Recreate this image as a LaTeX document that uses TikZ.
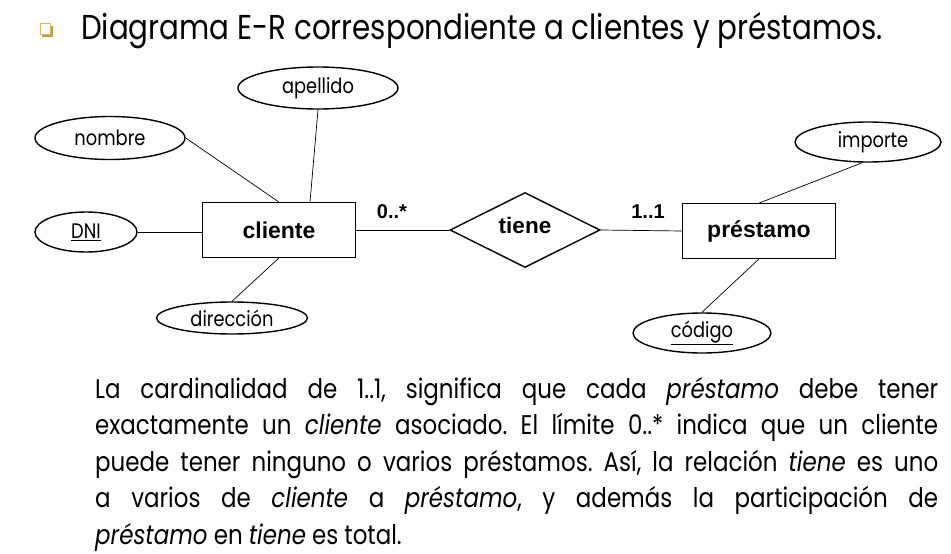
\documentclass[tikz,border=0pt]{standalone}
\usepackage{fontspec}
\setmainfont{Poppins}[FakeStretch=0.85]
\newfontfamily\arialfont{Liberation Sans}
\usetikzlibrary{shapes.geometric}
\definecolor{gold}{RGB}{204,153,51}
\frenchspacing
\begin{document}
\begin{tikzpicture}[x=1pt,y=-1pt,
  attr/.style={ellipse,draw,line width=1.4pt,inner sep=0pt,font=\fontsize{21}{23}\selectfont},
  ent/.style={draw,line width=0.8pt,minimum width=153pt,minimum height=55pt,inner sep=0pt,
    font=\arialfont\bfseries\fontsize{23}{25}\selectfont},
  rel/.style={diamond,draw,line width=1.4pt,minimum width=150pt,minimum height=75pt,aspect=2,inner sep=0pt,
    font=\arialfont\bfseries\fontsize{22.5}{24}\selectfont},
  card/.style={font=\arialfont\bfseries\fontsize{20}{22}\selectfont,inner sep=0pt},
  conn/.style={line width=0.7pt}]
\useasboundingbox[fill=white] (0,0) rectangle (951,554);
% bullet
\fill[gold] (42,26) rectangle (53,37);
\draw[gold!70,fill=white,line width=0.8pt] (40,23) rectangle (50,34);
\node[anchor=base west,inner sep=0pt,font=\fontsize{34.5}{37}\selectfont] (title) at (81,39)
  {Diagrama E-R correspondiente a clientes y préstamos.};
% entities
\node[ent] (cliente) at (279,230) {cliente};
\node[ent] (prestamo) at (759,231) {préstamo};
\node[rel] (tiene) at (525,230) {\raisebox{9pt}{tiene}};
% attributes
\node[attr,minimum width=160pt,minimum height=42pt] (apellido) at (318,88) {apellido};
\node[attr,minimum width=150pt,minimum height=43pt] (nombre) at (110,138) {nombre};
\node[attr,minimum width=102pt,minimum height=40pt] (dni) at (86,232) {\underline{DNI}};
\node[attr,minimum width=151pt,minimum height=32pt] (direccion) at (232,318) {dirección};
\node[attr,minimum width=146pt,minimum height=40pt] (importe) at (868,142) {\hspace{10pt}importe};
\node[attr,minimum width=138pt,minimum height=40pt] (codigo) at (702,333) {\underline{código}};
% connectors
\draw[conn] (nombre.east) -- (cliente.north);
\draw[conn] (apellido.south) -- ([xshift=31pt]cliente.north);
\draw[conn] (dni.east) -- (dni.east -| cliente.west);
\draw[conn] (direccion.north) -- (cliente.south);
\draw[conn] (cliente.east) -- (tiene.west);
\draw[conn] (tiene.east) -- (prestamo.west);
\draw[conn] (importe.255) -- (prestamo.north);
\draw[conn] (codigo.north) -- (prestamo.south);
% cardinalities
\node[card] (c1) at (392,212) {0..*};
\node[card] (c2) at (648,212) {1..1};
% paragraph
\node[anchor=north west,inner sep=0pt,text width=843pt,align=justify,
  font=\fontsize{27}{36.5}\selectfont] (texto) at (95,377)
  {La cardinalidad de 1..1, significa que cada \textit{préstamo} debe tener\linebreak
   exactamente un \textit{cliente} asociado. El límite 0..* indica que un cliente\linebreak
   puede tener ninguno o varios préstamos. Así, la relación \textit{tiene} es uno\linebreak
   a varios de \textit{cliente} a \textit{préstamo}, y además la participación de\linebreak
   \textit{préstamo} en \textit{tiene} es total.};
\end{tikzpicture}
\end{document}
